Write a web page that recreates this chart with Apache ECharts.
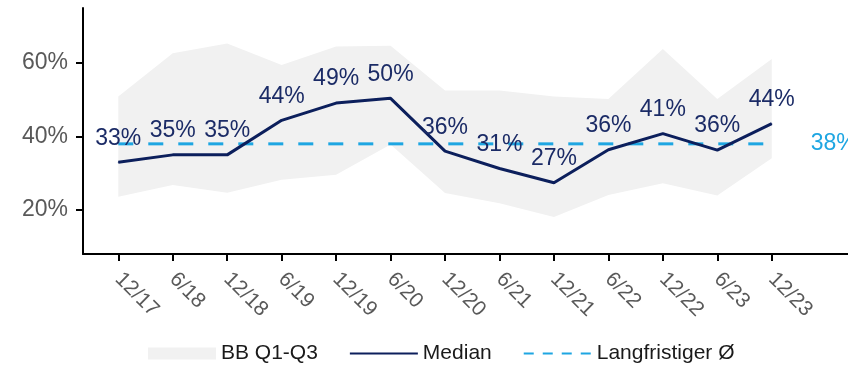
<!DOCTYPE html>
<html>
<head>
<meta charset="utf-8">
<script src="https://cdn.jsdelivr.net/npm/echarts@6/dist/echarts.min.js"></script>
<style>
  html, body { margin: 0; padding: 0; background: #fff; }
  #main { width: 848px; height: 365px; }
</style>
</head>
<body>
<div id="main"></div>
<script>
// Daten
var categories = ['12/17', '6/18', '12/18', '6/19', '12/19', '6/20', '12/20', '6/21', '12/21', '6/22', '12/22', '6/23', '12/23'];
var median = [33, 35, 35, 44.4, 49.1, 50.4, 36, 31.3, 27.4, 36.4, 40.8, 36.3, 43.5];
var q1 = [23.6, 26.8, 24.7, 28.2, 29.6, 37.8, 24.6, 21.8, 18.1, 24.1, 27.3, 23.9, 34.1];
var q3 = [50.9, 62.7, 65.3, 59.5, 64.5, 64.7, 52.5, 52.5, 50.9, 50.2, 63.8, 50.2, 61.1];
var longTermAvg = 38;
var yTicks = [20, 40, 60];

var idx = categories.map(function (c, i) { return i; });
var font = 'Liberation Sans, Arial, sans-serif';
var navy = '#0c1f5c';
var lightBlue = '#1ea6e2';
var bandGrey = '#f1f1f1';

var chart = echarts.init(document.getElementById('main'));

// Q1-Q3 Band als ein Polygon
function renderBand(params, api) {
  if (params.dataIndex !== 0) return;
  var pts = [];
  for (var i = 0; i < idx.length; i++) pts.push(api.coord([i, q3[i]]));
  for (var j = idx.length - 1; j >= 0; j--) pts.push(api.coord([j, q1[j]]));
  return {
    type: 'polygon',
    shape: { points: pts },
    style: { fill: bandGrey }
  };
}

var option = {
  animation: false,
  textStyle: { fontFamily: font },
  grid: { left: 83, right: 0, top: 8, bottom: 111 },
  legend: {
    left: 143,
    top: 338,
    itemWidth: 68,
    itemHeight: 12,
    itemGap: 31,
    textStyle: { fontSize: 21, color: '#1a1a1a', fontFamily: font },
    data: [
      { name: 'BB Q1-Q3', icon: 'rect' },
      { name: 'Median', itemStyle: { opacity: 0 } },
      { name: 'Langfristiger Ø', itemStyle: { opacity: 0 }, lineStyle: { type: [10, 9] } }
    ]
  },
  xAxis: {
    type: 'value',
    min: -0.648,
    max: 13.4,
    splitLine: { show: false },
    axisLine: { onZero: false, lineStyle: { color: '#000', width: 2 } },
    axisTick: { show: true, length: 7, customValues: idx, lineStyle: { color: '#000', width: 2 } },
    axisLabel: {
      customValues: idx,
      rotate: -45,
      fontSize: 21,
      color: '#595959',
      margin: 22,
      formatter: function (v) { return categories[Math.round(v)]; }
    }
  },
  yAxis: {
    type: 'value',
    min: 8,
    max: 75,
    splitLine: { show: false },
    axisLine: { show: true, onZero: false, lineStyle: { color: '#000', width: 2 } },
    axisTick: { show: true, length: 7, customValues: yTicks, lineStyle: { color: '#000', width: 2 } },
    axisLabel: {
      customValues: yTicks,
      fontSize: 23,
      color: '#595959',
      margin: 15,
      padding: [5, 0, 0, 0],
      formatter: '{value}%'
    }
  },
  series: [
    {
      name: 'BB Q1-Q3',
      type: 'custom',
      renderItem: renderBand,
      itemStyle: { color: bandGrey },
      z: 1,
      data: idx
    },
    {
      name: 'Langfristiger Ø',
      type: 'line',
      symbol: 'none',
      z: 3,
      itemStyle: { color: lightBlue },
      lineStyle: { color: lightBlue, width: 3, type: [15, 15] },
      endLabel: {
        show: true,
        distance: 39,
        fontSize: 23,
        color: lightBlue,
        formatter: longTermAvg + '%'
      },
      data: [[0, longTermAvg], [categories.length - 1, longTermAvg]]
    },
    {
      name: 'Median',
      type: 'line',
      symbol: 'circle',
      symbolSize: 1,
      showSymbol: true,
      z: 4,
      itemStyle: { color: navy },
      lineStyle: { color: navy, width: 3 },
      label: {
        show: true,
        position: 'top',
        distance: 12,
        fontSize: 23,
        color: '#1b2b66',
        formatter: function (p) { return Math.round(p.value[1]) + '%'; }
      },
      data: idx.map(function (i) { return [i, median[i]]; })
    }
  ]
};

chart.setOption(option);
</script>
</body>
</html>
